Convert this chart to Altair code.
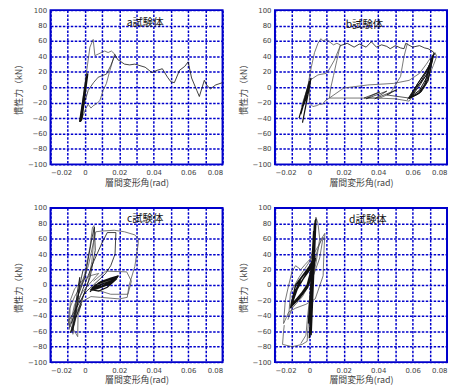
import altair as alt
import pandas as pd

# ---------------- data ----------------
# panel a
a_init_x = [-0.0029, 0.0010, -0.0020, 0.0015, -0.0024, 0.0012]
a_init_y = [-45, 13, -42, 18, -44, 14]
a_env_x = [-0.0029, -0.0010, 0.0010, 0.0029, 0.0048, 0.0058, 0.0077, 0.0096, 0.0115, 0.0135, 0.0154, 0.0173,
           0.0144, 0.0125, 0.0106, 0.0087, 0.0070, 0.0048, 0.0035, 0.0019, 0.0005, -0.0017]
a_env_y = [-45, -13, 21, 52, 62, 41, 43, 45, 47, 45, 47, 43,
           21, 5, -4, -17, -21, -24, -27, -22, -28, -40]
a_rel_x = [-0.0017, -0.0010, 0.0019, 0.0050, 0.0077, 0.0100, 0.0125, 0.0150, 0.0173]
a_rel_y = [-40, -26, -4, 6, 13, 15, 17, 28, 41]
a_deg_x = [0.0173, 0.0190, 0.0230, 0.0260, 0.0290, 0.0350, 0.0390, 0.0420, 0.0450, 0.0480, 0.0500, 0.0520,
           0.0550, 0.0580, 0.0600, 0.0620, 0.0650, 0.0665, 0.0694, 0.0710, 0.0730, 0.0760, 0.0800]
a_deg_y = [43, 36, 30, 29, 30, 26, 19, 22, 24, 13, 7, 6,
           22, 27, 33, 12, -4, -12, 9, 2, -2, 3, 6]

# panel b
b_init_x = [-0.0060, 0.0000, -0.0050, 0.0010, -0.0040, 0.0005, -0.0046, -0.0010]
b_init_y = [-40, 8, -35, 12, -46, 5, -30, -10]
b_env_x = [-0.0046, -0.0010, 0.0010, 0.0030, 0.0050, 0.0067, 0.0080, 0.0095, 0.0116, 0.0140, 0.0160, 0.0180,
           0.0160, 0.0140, 0.0125, 0.0116, 0.0090, 0.0077, 0.0060, 0.0040, 0.0020, 0.0000,
           0.0002, 0.0050, 0.0097, 0.0107, 0.0145, 0.0180]
b_env_y = [-25, 0, 25, 45, 57, 63, 60, 62, 59, 55, 57, 55,
           35, 15, 0, -14, -18, -22, -22, -24, -25, -20,
           9, 16, 18, 20, 35, 54]
b_plat_x = [0.0180, 0.0220, 0.0260, 0.0290, 0.0330, 0.0360, 0.0390, 0.0420, 0.0450, 0.0470, 0.0500, 0.0530,
            0.0550, 0.0560, 0.0600, 0.0640, 0.0670, 0.0690, 0.0720, 0.0730]
b_plat_y = [54, 57, 52, 56, 52, 59, 52, 55, 53, 50, 54, 51,
            50, 57, 52, 54, 51, 50, 46, 42]
b_unl_x = [0.0570, 0.0550, 0.0530, 0.0500, 0.0470, 0.0410, 0.0317, 0.0200, 0.0116,
           0.0200, 0.0340, 0.0490, 0.0580, 0.0640, 0.0680, 0.0710, 0.0730]
b_unl_y = [57, 40, 14, 3, -8, -14, -14, -14, -14,
           -1, 3, 5, 9, 18, 30, 40, 45]
b_ret_x = [0.0730, 0.0740, 0.0720, 0.0690, 0.0650, 0.0600, 0.0580, 0.0500, 0.0390, 0.0317]
b_ret_y = [45, 40, 28, 12, -2, -12, -18, -15, -14, -14]
b_wedge_x = [0.0317, 0.0410, 0.0360, 0.0330, 0.0450, 0.0400, 0.0380, 0.0510, 0.0450, 0.0580]
b_wedge_y = [-14, -6, -11, -15, -5, -12, -15, -3, -10, -14]
b_dense_x = [0.058, 0.064, 0.068, 0.071, 0.069, 0.064, 0.059, 0.065, 0.069, 0.072, 0.069, 0.063, 0.058,
             0.063, 0.067, 0.070, 0.068, 0.062, 0.058, 0.064, 0.069, 0.0725, 0.070, 0.065, 0.059,
             0.064, 0.068, 0.0715, 0.067, 0.061, 0.057]
b_dense_y = [-14, -8, 5, 38, 20, 2, -13, -6, 8, 42, 25, 5, -15,
             -9, 3, 30, 15, 0, -14, -7, 10, 44, 28, 8, -12,
             -4, 12, 36, 18, -2, -16]

# panel c
c_out_x = [-0.0080, -0.0060, -0.0030, 0.0000, 0.0030, 0.0044, 0.0054, 0.0050, 0.0040, 0.0020, -0.0010,
           -0.0040, -0.0042, -0.0060, -0.0096, -0.0090, -0.0060, -0.0020, 0.0020, 0.0063, 0.0100, 0.0170,
           0.0230, 0.0290, 0.0310, 0.0310, 0.0290, 0.0256, 0.0246, 0.0200, 0.0090, 0.0035, -0.0020,
           -0.0060, -0.0090, -0.0095]
c_out_y = [-61, -30, -5, 15, 50, 75, 77, 55, 30, 5, -15,
           -40, -67, -60, -50, -31, -15, 0, 25, 69, 70, 71,
           69, 65, 60, 54, 24, -1, -16, -18, -16, -15, -22,
           -40, -55, -45]
c_in_x = [-0.0080, -0.0020, 0.0050, 0.0100, 0.0130, 0.0180, 0.0175, 0.0150, 0.0120, 0.0050, 0.0000,
          -0.0050, -0.0090]
c_in_y = [-50, -10, 30, 55, 68, 68, 40, 25, 15, 0, -10,
          -30, -45]
c_mid_x = [-0.0050, 0.0000, 0.0040, 0.0055, 0.0060, 0.0030, -0.0020, -0.0070, -0.0085, -0.0060, -0.0020]
c_mid_y = [-20, 10, 60, 75, 45, 10, -20, -55, -62, -45, -25]
c_neg1_x = [-0.0090, -0.0085, -0.0060, -0.0020, 0.0030, 0.0080, 0.0040, -0.0010, -0.0060, -0.0092]
c_neg1_y = [-55, -20, -5, 5, 12, 15, 5, -8, -25, -58]
c_neg2_x = [-0.0070, -0.0060, -0.0045, -0.0030, -0.0040, -0.0060, -0.0075, -0.0050, -0.0030, -0.0010]
c_neg2_y = [-64, -40, -10, 10, -20, -50, -60, -30, 0, 20]
c_right_x = [0.0050, 0.0120, 0.0243, 0.0270, 0.0250, 0.0150, 0.0050]
c_right_y = [5, 18, 17, 5, -12, -12, -5]
c_dense_x = [0.0035, 0.008, 0.013, 0.019, 0.014, 0.008, 0.004, 0.009, 0.014, 0.018, 0.013, 0.007, 0.0035,
             0.009, 0.015, 0.0195, 0.015, 0.009, 0.004, 0.010, 0.016, 0.019, 0.012, 0.006, 0.0035,
             0.008, 0.013, 0.0185, 0.011, 0.005, 0.003]
c_dense_y = [-6, -4, 0, 11, 8, 3, -5, -2, 3, 9, 6, 1, -7,
             -3, 2, 12, 9, 4, -4, -1, 4, 10, 5, 0, -6,
             -8, -3, 8, 2, -3, -9]

# panel d
d_out_x = [-0.0146, -0.0150, -0.0156, -0.0100, -0.0042, -0.0013, -0.0008, 0.0000, 0.0020, 0.0040, 0.0070,
           0.0090, 0.0085, 0.0080, 0.0034, -0.0020, -0.0080, -0.0120, -0.0150, -0.0140, -0.0120, -0.0100,
           -0.0080, -0.0050, -0.0023, 0.0010, 0.0030, 0.0038, 0.0050, 0.0060, 0.0040, 0.0010, -0.0010,
           -0.0020, -0.0050]
d_out_y = [-52, -60, -77, -80, -77, -73, -56, -30, 10, 40, 60,
           67, 45, 12, -18, -25, -30, -35, -50, -20, 0, 18,
           25, 20, 27, 35, 60, 88, 80, 60, 30, 0, -40,
           -65, -76]
d_loop_x = [-0.0120, -0.0110, -0.0060, 0.0000, 0.0050, 0.0080, 0.0060, 0.0020, -0.0040, -0.0100, -0.0125]
d_loop_y = [-40, -10, 10, 30, 50, 62, 35, 10, -15, -30, -45]
d_vert_x = [0.0000, 0.0034, 0.0005, 0.0030, -0.0005, 0.0038, 0.0010, 0.0025, 0.0000, 0.0032, 0.0008]
d_vert_y = [-69, 84, -60, 80, -50, 86, -65, 70, -40, 78, -55]
d_diag_x = [-0.0108, -0.006, -0.001, 0.0034, -0.001, -0.006, -0.0105, -0.005, 0.000, 0.003, -0.002, -0.007,
            -0.011, -0.006, -0.001, 0.0035, -0.002, -0.008, -0.0108, -0.004, 0.001, 0.003, -0.003, -0.009,
            -0.0108, -0.007, -0.002, 0.0032, 0.000, -0.005, -0.010]
d_diag_y = [-28.5, -18, -3, 33, 20, 5, -26, -12, 3, 30, 14, -5,
            -30, -16, 0, 35, 18, 0, -27, -9, 8, 28, 10, -10,
            -28, -20, -6, 38, 24, 8, -22]

panel_labels = ["a試験体", "b試験体", "c試験体", "d試験体"]
label_x = [0.035, 0.032, 0.035, 0.034]
label_y = [83, 81, 85, 84]

x_ticks = [-0.02, -0.01, 0.0, 0.01, 0.02, 0.03, 0.04, 0.05, 0.06, 0.07, 0.08]
y_ticks = [-100, -80, -60, -40, -20, 0, 20, 40, 60, 80, 100]

GRAY = "#555555"
BLACK = "#111111"
BLUE = "#0000cc"


def frame(curves):
    rows = []
    for cid, (xs, ys, col, w) in enumerate(curves):
        for i, (x, y) in enumerate(zip(xs, ys)):
            rows.append(dict(x=x, y=y, c=cid, o=i, col=col, w=w))
    return pd.DataFrame(rows)


def panel(curves, idx):
    df = frame(curves)
    xenc = alt.X("x:Q", scale=alt.Scale(domain=[-0.02, 0.08], nice=False, zero=False),
                 axis=alt.Axis(values=x_ticks, title="層間変形角(rad)",
                               labelExpr="abs(round(datum.value*100)) % 2 == 0 ? (datum.value == 0 ? '0' : format(datum.value, '.2f')) : ''"))
    yenc = alt.Y("y:Q", scale=alt.Scale(domain=[-100, 100], nice=False),
                 axis=alt.Axis(values=y_ticks, title="慣性力（kN）"))
    lines = alt.Chart(df).mark_line(clip=True).encode(
        x=xenc, y=yenc, detail="c:N", order="o:Q",
        color=alt.Color("col:N", scale=None),
        strokeWidth=alt.StrokeWidth("w:Q", scale=None),
    )
    lab = pd.DataFrame({"x": [label_x[idx]], "y": [label_y[idx]], "t": [panel_labels[idx]]})
    txt = alt.Chart(lab).mark_text(fontSize=10.5, color="#111", font="Noto Sans CJK JP").encode(
        x=xenc, y=yenc, text="t:N")
    return alt.layer(lines, txt).properties(width=174, height=156)


pa = panel([
    (a_env_x, a_env_y, GRAY, 0.8),
    (a_rel_x, a_rel_y, BLACK, 0.7),
    (a_deg_x, a_deg_y, BLACK, 0.8),
    (a_init_x, a_init_y, BLACK, 2.0),
], 0)
pb = panel([
    (b_env_x, b_env_y, GRAY, 0.8),
    (b_plat_x, b_plat_y, BLACK, 0.8),
    (b_unl_x, b_unl_y, GRAY, 0.8),
    (b_ret_x, b_ret_y, GRAY, 0.8),
    (b_wedge_x, b_wedge_y, BLACK, 0.7),
    (b_dense_x, b_dense_y, BLACK, 1.0),
    (b_init_x, b_init_y, BLACK, 1.2),
], 1)
pc = panel([
    (c_out_x, c_out_y, GRAY, 0.8),
    (c_in_x, c_in_y, BLACK, 0.8),
    (c_mid_x, c_mid_y, BLACK, 0.8),
    (c_neg1_x, c_neg1_y, GRAY, 0.8),
    (c_neg2_x, c_neg2_y, BLACK, 0.8),
    (c_right_x, c_right_y, GRAY, 0.8),
    (c_dense_x, c_dense_y, BLACK, 1.3),
], 2)
pd_ = panel([
    (d_out_x, d_out_y, GRAY, 0.8),
    (d_loop_x, d_loop_y, GRAY, 0.8),
    (d_diag_x, d_diag_y, BLACK, 1.4),
    (d_vert_x, d_vert_y, BLACK, 1.5),
], 3)

chart = alt.vconcat(
    alt.hconcat(pa, pb, spacing=14),
    alt.hconcat(pc, pd_, spacing=14),
    spacing=15,
).properties(
    padding={"left": 5, "top": -5, "right": 0, "bottom": 0},
    background="white",
).configure_axis(
    gridColor=BLUE, gridDash=[2.5, 1.5], gridWidth=1.5, gridOpacity=1,
    domain=False, ticks=False,
    labelFontSize=7, labelColor="#444", labelFont="DejaVu Sans", labelPadding=4,
    titleFontSize=9, titleColor="#444", titleFontWeight="normal", titleFont="Noto Sans CJK JP",
).configure_axisY(titlePadding=4).configure_axisX(titlePadding=3).configure_view(
    stroke=BLUE, strokeWidth=2
)

chart.save("out.html", embed_options={"renderer": "svg", "actions": False})
